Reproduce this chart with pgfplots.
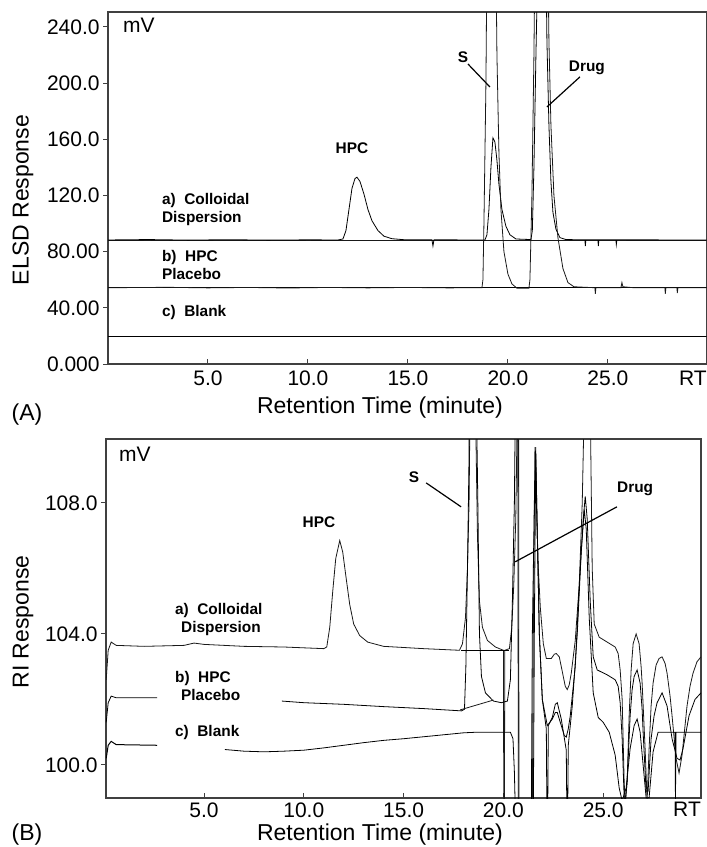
\documentclass[border=0pt]{standalone}
\usepackage{pgfplots}
\pgfplotsset{compat=1.18}
\usepackage{fontspec}
\setmainfont{Liberation Sans}

\newcommand\tickfont{\fontsize{10.5}{12}\selectfont}
\newcommand\labfont{\fontsize{11.5}{13}\selectfont}
\newcommand\af{\fontsize{7.7}{8.6}\selectfont\bfseries}

\pgfplotsset{
  chrom/.style={
    scale only axis,
    axis line style={black!75, line width=0.7pt},
    tick style={black!75, line width=0.5pt},
    major tick length=2.5pt,
    xtick align=inside, ytick align=outside,
    xtick pos=left, ytick pos=left,
    xtick={5,10,15,20,25},
    xticklabels={5.0,10.0,15.0,20.0,25.0},
    extra x tick style={major tick length=0pt},
    extra x tick labels={RT},
    tick label style={font=\tickfont},
    yticklabel style={inner sep=1.5pt},
    xticklabel style={inner sep=3.3pt},
    cycle list={{black!90, line width=0.5pt, mark=none, solid}},
  },
}

\begin{document}
\begin{tikzpicture}
\useasboundingbox (0,0) rectangle (353.5pt,-423.5pt);

% ---------------- (A) ELSD ----------------
\begin{axis}[chrom,
  at={(54pt,-182pt)}, anchor=south west,
  width=299.25pt, height=176pt,
  xmin=0, xmax=29.93, ymin=0, ymax=250.6,
  extra x ticks={29.25},
  ytick={0,40,80,120,160,200,240},
  yticklabels={0.000,40.00,80.00,120.0,160.0,200.0,240.0},
]
% baselines
\addplot coordinates {(0,88.3) (30,88.3)};
\addplot coordinates {(0,54.3) (30,54.3)};
% c) blank
\addplot coordinates {(0,20) (30,20)};
% a) colloidal dispersion
\addplot coordinates {
 (0,88.3) (2,88.6) (4,88.2) (6,88.5) (8,88.2) (10,88.4) (11.5,88.3)
 (11.75,89) (11.9,95) (12.05,110) (12.2,125) (12.35,132) (12.45,133)
 (12.6,130) (12.8,121) (13.0,110) (13.2,102) (13.5,95) (13.8,91)
 (14.2,89.2) (14.8,88.5) (16.2,88.4) (16.25,84) (16.3,88.4)
 (18.85,88.3) (18.95,92) (19.05,110) (19.15,140) (19.25,161) (19.35,158)
 (19.45,145) (19.55,128) (19.7,110) (19.9,98) (20.1,92) (20.4,89)
 (21.15,88.6) (21.22,95) (21.3,140) (21.4,220) (21.5,290) (21.9,290)
 (21.95,230) (22.05,170) (22.15,130) (22.25,108) (22.4,96) (22.6,90)
 (22.9,88.6) (23.85,88.4) (23.87,84) (23.9,88.4) (24.5,88.4) (24.52,84)
 (24.55,88.4) (25.4,88.4) (25.42,85) (25.45,88.4) (30,88.3)
};
% b) HPC placebo
\addplot coordinates {
 (0,54.3) (3,54.6) (5,54.2) (7,54.5) (9,54.1) (11,54.5) (13,54.2)
 (15,54.5) (17,54.2) (18.7,54.3) (18.75,60) (18.8,100) (18.9,200)
 (18.95,290) (19.4,290) (19.45,220) (19.55,150) (19.65,110) (19.8,80)
 (20.0,64) (20.2,57) (20.45,54) (21.05,54) (21.1,60) (21.2,120)
 (21.3,220) (21.35,290) (22.0,290) (22.05,230) (22.15,170) (22.3,120)
 (22.5,90) (22.75,68) (23.0,58) (23.3,55) (24.35,54.3) (24.37,50)
 (24.4,54.3) (25.65,54.3) (25.7,58) (25.75,55) (26.3,54.3) (27.85,54.3)
 (27.87,50) (27.9,54.3) (28.45,54.3) (28.47,50.5) (28.5,54.3) (30,54.3)
};
\node[anchor=west, font=\tickfont] at (axis cs:0.4,241.4) {mV};
\node[anchor=west, align=left, font=\af] at (axis cs:2.35,110) {a)\ \ Colloidal\\Dispersion};
\node[anchor=west, align=left, font=\af] at (axis cs:2.35,70.5) {b)\ \ HPC\\Placebo};
\node[anchor=west, font=\af] at (axis cs:2.35,37) {c)\ \ Blank};
\node[font=\af] at (axis cs:12.2,153.8) {HPC};
\node[font=\af] at (axis cs:17.75,218.6) {S};
\draw[black, line width=0.6pt] (axis cs:18.0,213.6) -- (axis cs:19.1,197.2);
\node[font=\af] at (axis cs:23.95,210.8) {Drug};
\draw[black, line width=0.6pt] (axis cs:23.6,204.4) -- (axis cs:21.95,183);
\end{axis}

% ---------------- (B) RI ----------------
\begin{axis}[chrom,
  at={(53pt,-399pt)}, anchor=south west,
  width=297.5pt, height=179.5pt,
  xmin=0.09, xmax=29.9, ymin=98.99, ymax=109.95,
  extra x ticks={29.2},
  ytick={100,104,108},
  yticklabels={100.0,104.0,108.0},
  xticklabel style={inner sep=2pt},
]
% a) colloidal dispersion
\addplot coordinates {
 (0.1,102.6) (0.2,103.5) (0.35,103.75) (0.6,103.65) (2,103.62) (4,103.65)
 (4.5,103.72) (5,103.68) (7,103.62) (9,103.6) (11.0,103.55) (11.15,103.6)
 (11.3,104.2) (11.45,105.3) (11.6,106.3) (11.8,106.85) (11.95,106.5)
 (12.1,105.8) (12.3,104.9) (12.5,104.3) (12.8,103.95) (13.2,103.75)
 (14,103.62) (16,103.55) (17.8,103.5) (17.95,103.7) (18.1,104.5)
 (18.2,106) (18.28,108) (18.33,111) (18.6,111) (18.7,107) (18.8,105)
 (18.95,104.2) (19.2,103.8) (19.6,103.6) (20.0,103.5) (20.02,98.5)
 (20.05,98.5) (20.07,103.5) (20.3,103.55) (20.42,104.2) (20.52,105.5)
 (20.62,107.5) (20.7,111) (20.76,111) (20.78,98.5) (21.45,98.5) (21.5,104)
 (21.58,109.7) (21.65,108) (21.75,106) (21.85,104.8) (22.0,103.7)
 (22.15,103.25) (22.4,103.25) (22.55,103.38) (22.65,103.4) (22.8,103.3)
 (23.0,102.7) (23.1,102.4) (23.2,102.3) (23.3,102.45) (23.4,102.8)
 (23.6,103.8) (23.8,105.5) (23.95,108) (24.05,111) (24.35,111) (24.45,106)
 (24.55,104.3) (24.8,103.9) (25.2,103.75) (25.6,103.6) (25.75,103.4)
 (25.85,102.9) (25.95,102) (26.05,99.5) (26.1,98.8) (26.2,99.5)
 (26.3,101.5) (26.4,102.9) (26.5,103.7) (26.65,104.0) (26.8,103.7)
 (26.9,103.0) (26.95,102.5) (27.1,100.5) (27.2,98.9) (27.3,100.5)
 (27.4,101.8) (27.5,102.5) (27.65,103.05) (27.8,103.25) (27.95,103.3)
 (28.1,103.1) (28.2,102.8) (28.35,102.1) (28.45,101.5) (28.65,100.2)
 (28.8,99.75) (28.95,100.3) (29.1,101.2) (29.2,101.8) (29.35,102.4)
 (29.5,102.8) (29.7,103.15) (29.9,103.3)
};
\addplot coordinates {(17.9,103.5) (20.3,103.5)};
% b) HPC placebo
\addplot coordinates {
 (0.1,101.3) (0.2,101.9) (0.35,102.1) (0.6,102.05) (2.65,102.05)
};
\addplot coordinates {
 (8.9,101.95) (10,101.9) (12,101.85) (14,101.78) (16,101.72) (17.9,101.65)
 (18.05,101.7) (18.12,103) (18.2,106) (18.27,109) (18.3,111) (18.65,111)
 (18.72,108) (18.8,104) (18.9,102.7) (19.1,102.2) (19.5,101.95) (19.9,101.9)
 (20.2,101.95) (20.35,102.6) (20.45,105) (20.55,108) (20.6,111) (20.72,111)
 (20.75,98.5) (21.5,98.5) (21.55,104) (21.62,109.5) (21.7,107) (21.8,104)
 (21.95,102) (22.2,101.2) (22.45,101.4) (22.6,101.6) (22.7,101.6)
 (22.9,101.2) (23.05,100.9) (23.15,100.85) (23.25,101.1) (23.35,101.5)
 (23.6,103) (23.8,105.5) (24.0,107.5) (24.1,108.2) (24.2,107.5) (24.35,105)
 (24.5,103.3) (24.7,102.9) (25.2,102.75) (25.6,102.6) (25.75,102.4)
 (25.85,101.9) (25.95,100.8) (26.05,99) (26.1,98.8) (26.2,99.5)
 (26.35,101.5) (26.45,102.3) (26.55,102.7) (26.7,102.9) (26.85,102.5)
 (26.95,101.7) (27.0,101) (27.15,99.2) (27.25,99.2) (27.4,100.8)
 (27.55,101.5) (27.7,101.9) (27.95,102.2) (28.2,101.8) (28.45,100.8)
 (28.7,100.2) (28.85,100.15) (29.0,100.5) (29.15,101.0) (29.3,101.5)
 (29.6,102.0) (29.9,102.2)
};
\addplot coordinates {(17.83,101.68) (19.5,101.98)};
% c) blank
\addplot coordinates {
 (0.1,100.2) (0.2,100.6) (0.35,100.72) (0.6,100.62) (2.65,100.6)
};
\addplot coordinates {
 (6.05,100.47) (7,100.42) (8,100.4) (9,100.42) (10,100.45) (11,100.52)
 (12,100.6) (13,100.68) (14,100.75) (15,100.8) (16,100.86) (17,100.92)
 (18,100.98) (18.7,101.0) (20.35,101.0) (20.48,100.8) (20.55,99.8)
 (20.6,98.5) (21.4,98.5) (21.45,104) (21.55,108) (21.62,109.7) (21.7,107)
 (21.8,104) (21.95,102) (22.15,101.1) (22.18,98.5) (22.22,98.5)
 (22.25,101.2) (22.45,101.45) (22.6,101.85) (22.7,101.9) (22.9,101.4)
 (23.15,100.45) (23.18,98.5) (23.22,98.5) (23.25,100.6) (23.45,101.8)
 (23.7,104) (23.9,106.5) (24.05,107.8) (24.15,107.2) (24.3,104.5)
 (24.5,102.2) (24.75,101.45) (25.0,101.3) (25.3,101.0) (25.6,100.3)
 (25.8,99.3) (25.95,98.9) (26.15,99.3) (26.35,100.5) (26.55,101.2)
 (26.7,101.4) (26.85,101.0) (27.0,100) (27.15,99.0) (27.3,99.0)
 (27.5,100.4) (27.75,101.0) (28.6,101.0) (28.62,98.9) (28.65,101.0)
 (29.9,101.0)
};
\node[anchor=west, font=\tickfont] at (axis cs:0.39,109.47) {mV};
\node[anchor=west, align=left, font=\af] at (axis cs:3.2,104.44) {a)\ \ Colloidal\\\hspace{3pt}Dispersion};
\node[anchor=west, align=left, font=\af] at (axis cs:3.2,102.41) {b)\ \ HPC\\\hspace{3pt}Placebo};
\node[anchor=west, font=\af] at (axis cs:3.2,100.98) {c)\ \ Blank};
\node[font=\af] at (axis cs:10.76,107.42) {HPC};
\node[font=\af] at (axis cs:15.52,108.79) {S};
\draw[black, line width=0.6pt] (axis cs:16.13,108.61) -- (axis cs:17.88,107.88);
\node[font=\af] at (axis cs:26.6,108.43) {Drug};
\draw[black, line width=0.6pt] (axis cs:25.69,107.88) -- (axis cs:20.59,106.2);
\end{axis}

% outer labels
\node[font=\labfont, inner sep=0pt] at (190pt,-204pt) {Retention Time (minute)};
\node[font=\labfont] at (13.5pt,-207.5pt) {(A)};
\node[font=\labfont, rotate=90] at (11.5pt,-100pt) {ELSD Response};
\node[font=\labfont, inner sep=0pt] at (190pt,-417.3pt) {Retention Time (minute)};
\node[font=\labfont] at (13.5pt,-417.5pt) {(B)};
\node[font=\labfont, rotate=90] at (11.5pt,-311pt) {RI Response};
\end{tikzpicture}
\end{document}
